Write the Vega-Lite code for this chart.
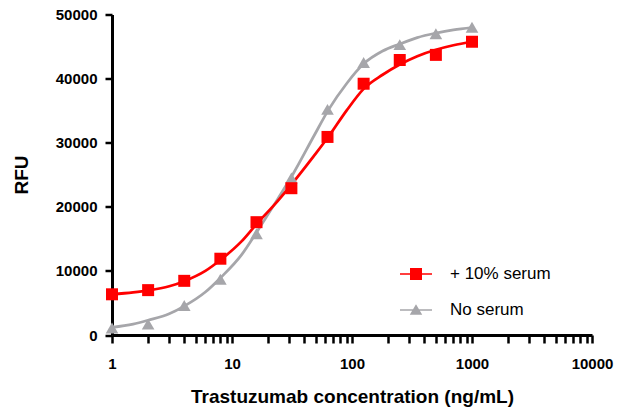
{
  "$schema": "https://vega.github.io/schema/vega-lite/v6.json",
  "autosize": "none",
  "width": 480,
  "height": 320.5,
  "padding": {"left": 112, "top": 14.5, "right": 30, "bottom": 73},
  "background": "white",
  "config": {
    "view": {"stroke": null},
    "font": "Liberation Sans",
    "axis": {"grid": false, "domainColor": "black", "tickColor": "black", "labelColor": "black", "titleColor": "black", "labelFont": "Liberation Sans", "titleFont": "Liberation Sans", "labelFontWeight": "bold", "titleFontWeight": "bold"},
    "legend": {
      "title": null, "orient": "none", "legendX": 288, "legendY": 243.5, "padding": 0,
      "symbolSize": 1024, "symbolStrokeWidth": 0, "symbolOpacity": 1, "symbolType": "square",
      "labelFont": "Liberation Sans", "labelFontSize": 17, "labelColor": "black", "labelOffset": 18, "labelLimit": 300,
      "rowPadding": 12
    }
  },
  "datasets": {
    "points": [
      {"series": "No serum", "conc": 1, "rfu": 1100},
      {"series": "No serum", "conc": 2, "rfu": 1700},
      {"series": "No serum", "conc": 4, "rfu": 4600},
      {"series": "No serum", "conc": 8, "rfu": 8700},
      {"series": "No serum", "conc": 16, "rfu": 15800},
      {"series": "No serum", "conc": 31.25, "rfu": 24500},
      {"series": "No serum", "conc": 62.5, "rfu": 35200},
      {"series": "No serum", "conc": 125, "rfu": 42500},
      {"series": "No serum", "conc": 250, "rfu": 45300},
      {"series": "No serum", "conc": 500, "rfu": 47000},
      {"series": "No serum", "conc": 1000, "rfu": 48000},
      {"series": "+ 10% serum", "conc": 1, "rfu": 6350},
      {"series": "+ 10% serum", "conc": 2, "rfu": 7000},
      {"series": "+ 10% serum", "conc": 4, "rfu": 8450},
      {"series": "+ 10% serum", "conc": 8, "rfu": 11900},
      {"series": "+ 10% serum", "conc": 16, "rfu": 17600},
      {"series": "+ 10% serum", "conc": 31.25, "rfu": 22900},
      {"series": "+ 10% serum", "conc": 62.5, "rfu": 30900},
      {"series": "+ 10% serum", "conc": 125, "rfu": 39200},
      {"series": "+ 10% serum", "conc": 250, "rfu": 42900},
      {"series": "+ 10% serum", "conc": 500, "rfu": 43700},
      {"series": "+ 10% serum", "conc": 1000, "rfu": 45750}
    ],
    "curve": [
      {"series": "No serum", "conc": 1, "rfu": 1200},
      {"series": "No serum", "conc": 1.5, "rfu": 1700},
      {"series": "No serum", "conc": 2, "rfu": 2300},
      {"series": "No serum", "conc": 3, "rfu": 3300},
      {"series": "No serum", "conc": 4, "rfu": 4500},
      {"series": "No serum", "conc": 6, "rfu": 6700},
      {"series": "No serum", "conc": 8, "rfu": 8900},
      {"series": "No serum", "conc": 12, "rfu": 12500},
      {"series": "No serum", "conc": 16, "rfu": 16000},
      {"series": "No serum", "conc": 24, "rfu": 21200},
      {"series": "No serum", "conc": 32, "rfu": 25000},
      {"series": "No serum", "conc": 48, "rfu": 31000},
      {"series": "No serum", "conc": 64, "rfu": 35200},
      {"series": "No serum", "conc": 90, "rfu": 39200},
      {"series": "No serum", "conc": 125, "rfu": 42300},
      {"series": "No serum", "conc": 180, "rfu": 44300},
      {"series": "No serum", "conc": 250, "rfu": 45400},
      {"series": "No serum", "conc": 350, "rfu": 46400},
      {"series": "No serum", "conc": 500, "rfu": 47100},
      {"series": "No serum", "conc": 700, "rfu": 47600},
      {"series": "No serum", "conc": 1000, "rfu": 47950},
      {"series": "+ 10% serum", "conc": 1, "rfu": 6350},
      {"series": "+ 10% serum", "conc": 1.5, "rfu": 6650},
      {"series": "+ 10% serum", "conc": 2, "rfu": 6950},
      {"series": "+ 10% serum", "conc": 3, "rfu": 7600},
      {"series": "+ 10% serum", "conc": 4, "rfu": 8400},
      {"series": "+ 10% serum", "conc": 6, "rfu": 10000},
      {"series": "+ 10% serum", "conc": 8, "rfu": 11700},
      {"series": "+ 10% serum", "conc": 12, "rfu": 14600},
      {"series": "+ 10% serum", "conc": 16, "rfu": 17300},
      {"series": "+ 10% serum", "conc": 24, "rfu": 20900},
      {"series": "+ 10% serum", "conc": 32, "rfu": 23700},
      {"series": "+ 10% serum", "conc": 48, "rfu": 27900},
      {"series": "+ 10% serum", "conc": 64, "rfu": 31000},
      {"series": "+ 10% serum", "conc": 90, "rfu": 35000},
      {"series": "+ 10% serum", "conc": 125, "rfu": 38400},
      {"series": "+ 10% serum", "conc": 180, "rfu": 40600},
      {"series": "+ 10% serum", "conc": 250, "rfu": 42200},
      {"series": "+ 10% serum", "conc": 350, "rfu": 43500},
      {"series": "+ 10% serum", "conc": 500, "rfu": 44500},
      {"series": "+ 10% serum", "conc": 700, "rfu": 45200},
      {"series": "+ 10% serum", "conc": 1000, "rfu": 45750}
    ]
  },
  "encoding": {
    "x": {
      "field": "conc", "type": "quantitative",
      "scale": {"type": "log", "domain": [1, 10000], "nice": false},
      "axis": {
        "title": "Trastuzumab concentration (ng/mL)",
        "titleFontSize": 19, "titleY": 67, "titleBaseline": "alphabetic",
        "values": [1,2,3,4,5,6,7,8,9,10,20,30,40,50,60,70,80,90,100,200,300,400,500,600,700,800,900,1000,2000,3000,4000,5000,6000,7000,8000,9000,10000],
        "labelExpr": "abs(log(datum.value)/LN10 - round(log(datum.value)/LN10)) < 0.000001 ? datum.label : ''",
        "format": "d",
        "labelFontSize": 15, "labelOverlap": false, "labelFlush": false, "labelPadding": 13,
        "tickSize": 8, "tickWidth": 2.5, "domainWidth": 3,
        "encode": {"ticks": {"update": {"y2": {"signal": "abs(log(datum.value)/LN10 - round(log(datum.value)/LN10)) < 0.000001 ? 8 : 5"}}}}
      }
    },
    "y": {
      "field": "rfu", "type": "quantitative",
      "scale": {"domain": [0, 50000], "nice": false},
      "axis": {
        "title": "RFU", "titleFontSize": 19, "titleAngle": -90, "titleX": -85, "titleY": 160, "titleBaseline": "alphabetic", "titleAlign": "center",
        "values": [0, 10000, 20000, 30000, 40000, 50000], "format": "d",
        "labelFontSize": 15, "labelPadding": 8, "tickSize": 7, "tickWidth": 2.5, "domainWidth": 3
      }
    },
    "color": {
      "field": "series", "type": "nominal",
      "scale": {"domain": ["+ 10% serum", "No serum"], "range": ["#ff0000", "#a6a6aa"]},
      "legend": {
        "encode": {"symbols": {"update": {"shape": {"signal": "datum.value === '+ 10% serum' ? 'M-1,-0.047H1V0.047H-1Z M-0.375,-0.375H0.375V0.375H-0.375Z' : 'M-1,-0.047H1V0.047H-1Z M0,-0.36L0.39,0.3H-0.39Z'"}}}}
      }
    }
  },
  "layer": [
    {
      "data": {"name": "curve"},
      "mark": {"type": "line", "interpolate": "monotone", "strokeWidth": 2.75, "clip": false},
      "encoding": {
        "order": {"field": "conc", "type": "quantitative"}
      }
    },
    {
      "data": {"name": "points"},
      "mark": {"type": "point", "filled": true, "opacity": 1, "strokeWidth": 0, "clip": false},
      "encoding": {
        "shape": {"condition": {"test": "datum.series === '+ 10% serum'", "value": "square"}, "value": "triangle-up"},
        "size": {"condition": {"test": "datum.series === '+ 10% serum'", "value": 144}, "value": 160}
      }
    }
  ]
}
